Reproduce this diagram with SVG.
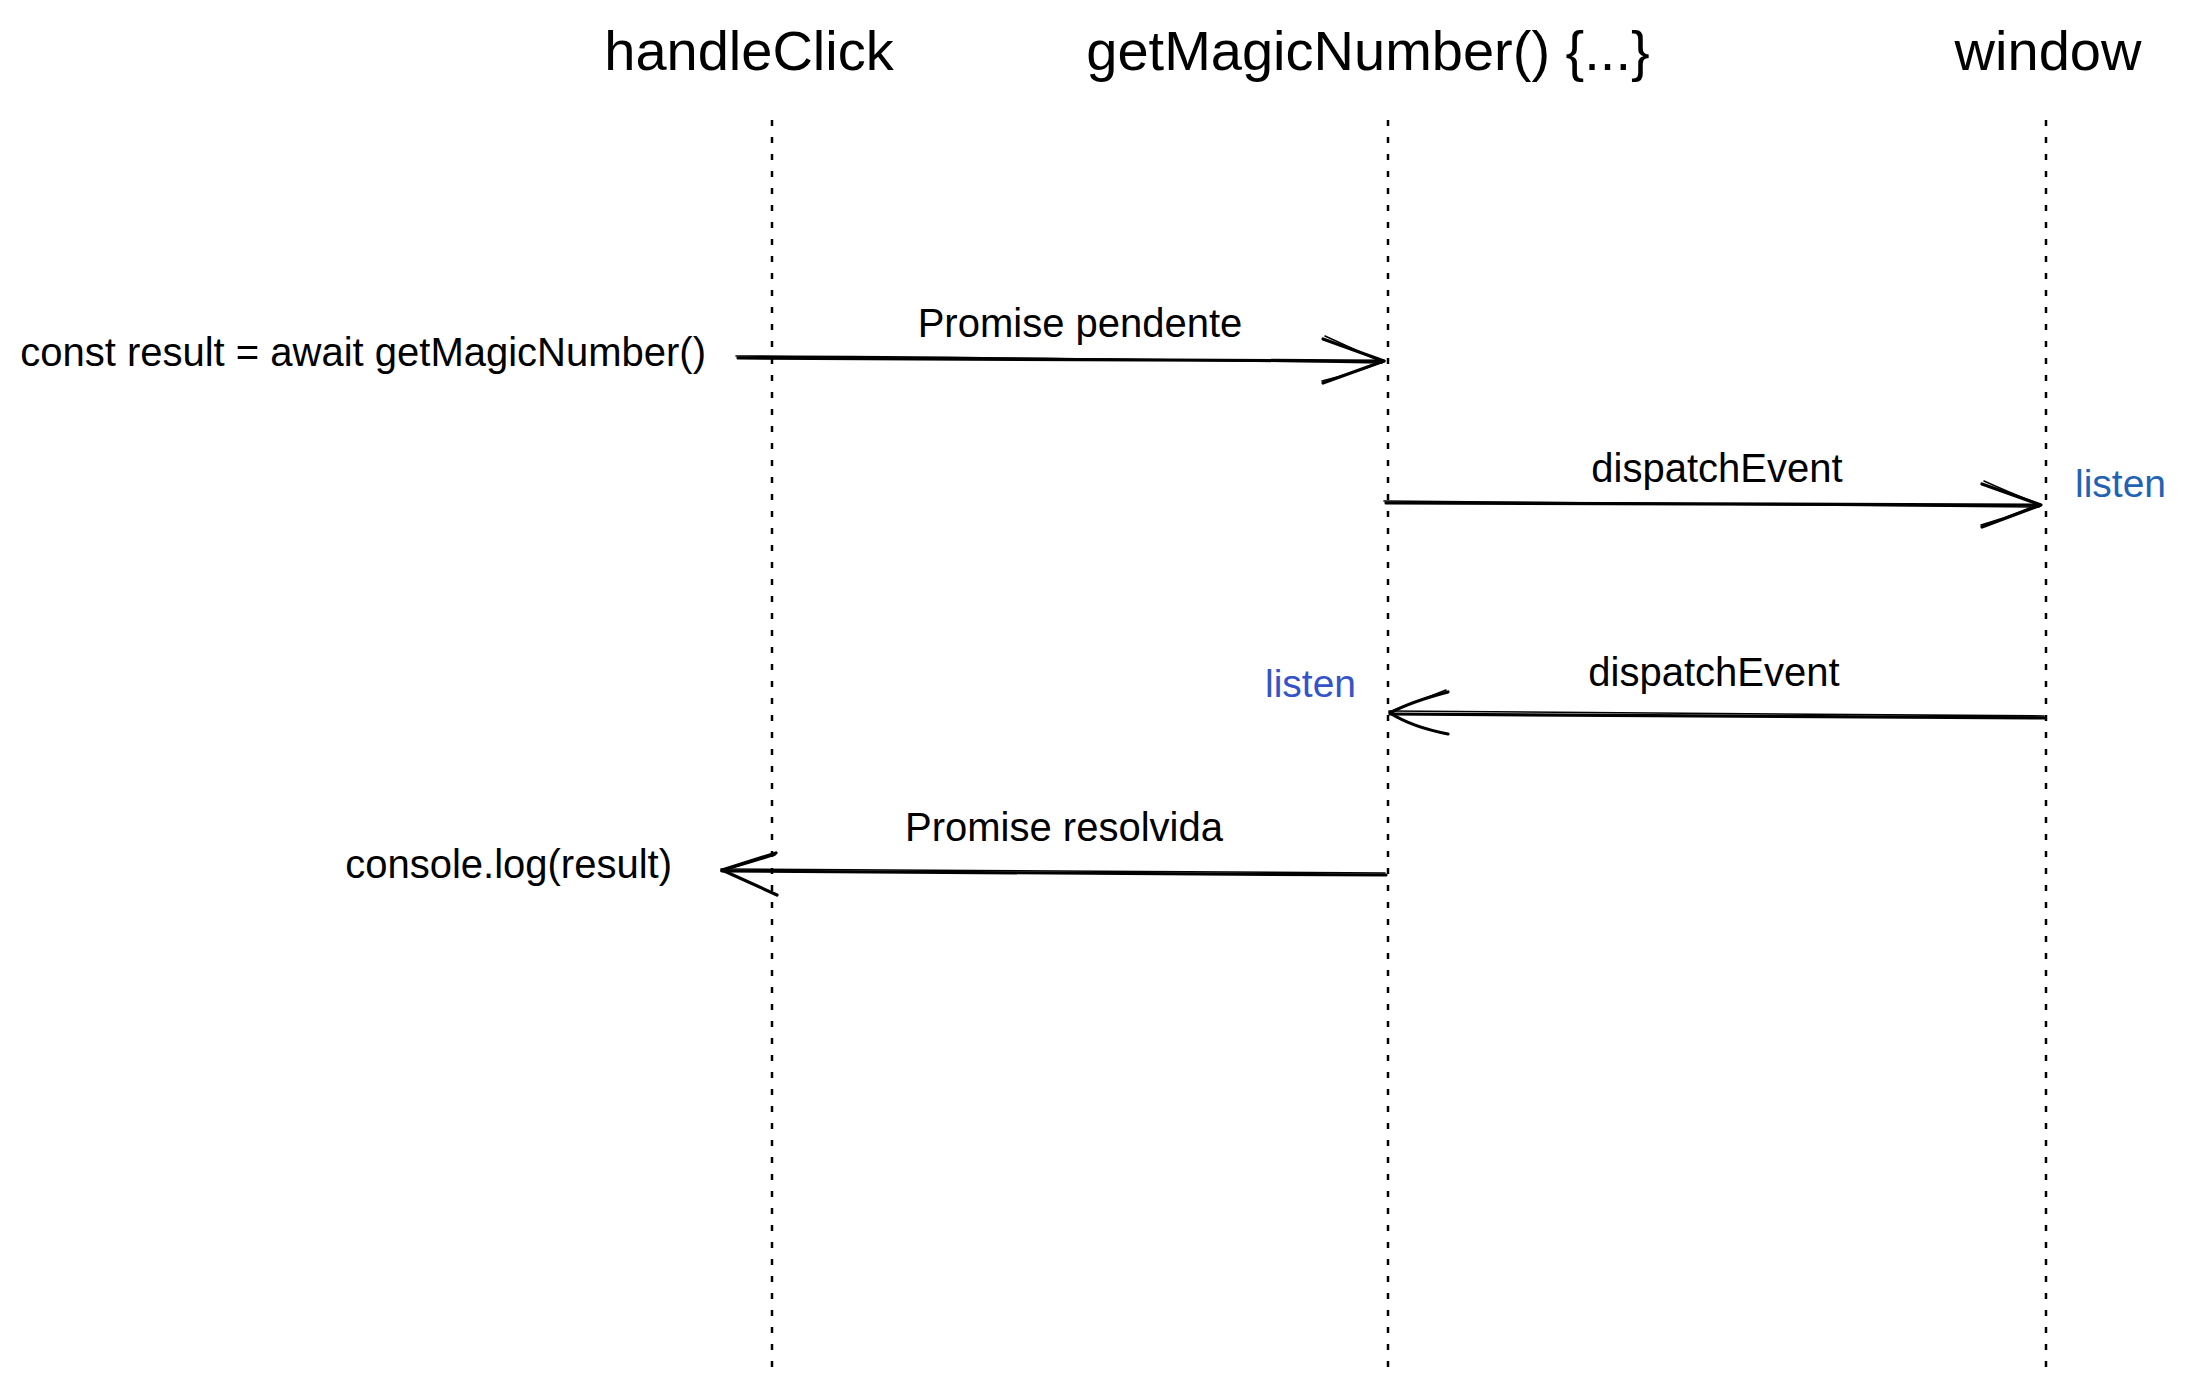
<svg xmlns="http://www.w3.org/2000/svg" width="2192" height="1392" viewBox="0 0 2192 1392">
<style>
.t{font-family:"Liberation Sans",Arial,sans-serif;fill:#000}
.title{font-size:56px}
.lbl{font-size:40px}
.life{stroke:#000;stroke-width:2.5;stroke-dasharray:6 11;fill:none}
.ln{stroke:#000;fill:none;stroke-linecap:round;stroke-linejoin:round}
.a{stroke-width:3.2}
.b{stroke-width:1.6}
</style>
<rect width="2192" height="1392" fill="#fff"/>
<g id="handleClick">
<text class="t title" x="749" y="70" text-anchor="middle">handleClick</text>
<line class="life" x1="772" y1="120" x2="772" y2="1370"/>
</g>
<g id="getMagicNumber">
<text class="t title" x="1368" y="70" text-anchor="middle">getMagicNumber() {...}</text>
<line class="life" x1="1388" y1="120" x2="1388" y2="1370"/>
</g>
<g id="window">
<text class="t title" x="2048" y="70" text-anchor="middle">window</text>
<line class="life" x1="2046" y1="120" x2="2046" y2="1370"/>
</g>
<g id="labels">
<text class="t lbl" x="706" y="366" text-anchor="end">const result = await getMagicNumber()</text>
<text class="t lbl" x="672" y="878" text-anchor="end">console.log(result)</text>
<text x="2075" y="497" style="font-family:'Liberation Sans',Arial,sans-serif;font-size:39px;fill:#1f63b2">listen</text>
<text x="1265" y="697" style="font-family:'Liberation Sans',Arial,sans-serif;font-size:39px;fill:#3553c9">listen</text>
</g>
<g id="connectors">
<g id="c1">
<path class="ln a" d="M738 358 L1384 361"/>
<path class="ln b" d="M736 356 Q1000 357 1382 363"/>
<path class="ln a" d="M1323 339 L1384 361 L1323 383"/>
<path class="ln b" d="M1325 336 Q1360 352 1382 362 Q1355 373 1322 381"/>
<text class="t lbl" x="1080" y="337" text-anchor="middle">Promise pendente</text>
</g>
<g id="c2">
<path class="ln a" d="M1386 503 L2040 505"/>
<path class="ln b" d="M1384 501 Q1700 503 2039 507"/>
<path class="ln a" d="M1982 484 L2041 505 L1982 527"/>
<path class="ln b" d="M1984 481 Q2015 495 2039 504 Q2010 517 1981 525"/>
<text class="t lbl" x="1717" y="482" text-anchor="middle">dispatchEvent</text>
</g>
<g id="c3">
<path class="ln a" d="M2045 718 L1390 714"/>
<path class="ln b" d="M2044 716 Q1700 713 1389 711"/>
<path class="ln a" d="M1448 692 Q1410 702 1390 713 Q1412 727 1448 734"/>
<path class="ln b" d="M1446 690 Q1408 705 1389 712"/>
<text class="t lbl" x="1714" y="686" text-anchor="middle">dispatchEvent</text>
</g>
<g id="c4">
<path class="ln a" d="M1386 875 L722 871"/>
<path class="ln b" d="M1385 873 Q1000 871 721 869"/>
<path class="ln a" d="M776 853 L722 870 L777 895"/>
<path class="ln b" d="M775 855 Q740 866 721 871"/>
<text class="t lbl" x="1064" y="841" text-anchor="middle">Promise resolvida</text>
</g>
</g>
</svg>
